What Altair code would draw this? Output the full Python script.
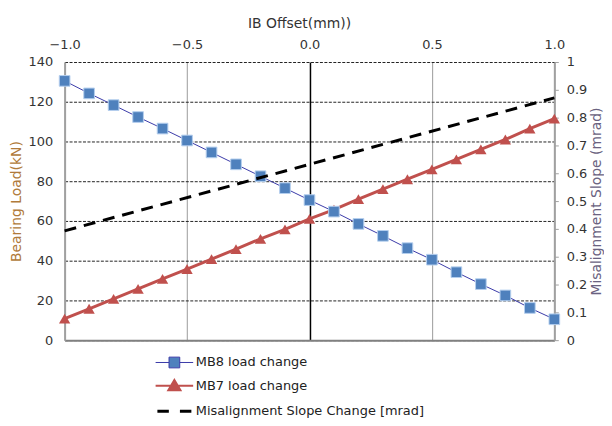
import altair as alt
import pandas as pd

# ---- data ----
offset_mm = [-1.0, -0.9, -0.8, -0.7, -0.6, -0.5, -0.4, -0.3, -0.2, -0.1, 0.0,
             0.1, 0.2, 0.3, 0.4, 0.5, 0.6, 0.7, 0.8, 0.9, 1.0]
mb8_load = [130.5, 124.2, 118.3, 112.3, 106.5, 100.5, 94.5, 88.5, 82.5, 76.5, 70.5,
            64.7, 58.5, 52.5, 46.3, 40.5, 34.2, 28.2, 22.5, 16.2, 10.5]
mb7_load = [10.8, 15.8, 20.8, 25.8, 30.8, 35.8, 40.8, 45.8, 51.0, 55.8, 61.0,
            65.7, 71.0, 76.0, 81.0, 86.0, 91.0, 96.0, 101.0, 106.5, 111.5]
mis_offset = [-1.0, 0.0, 1.0]
mis_slope = [0.393, 0.632, 0.871]

series_names = ["MB8 load  change", "MB7 load  change", "Misalignment  Slope Change  [mrad]"]
x_ticks = [-1.0, -0.5, 0.0, 0.5, 1.0]
left_ticks = [0, 20, 40, 60, 80, 100, 120, 140]
right_ticks = [0, 0.1, 0.2, 0.3, 0.4, 0.5, 0.6, 0.7, 0.8, 0.9, 1.0]

FONT = "DejaVu Sans"

df = pd.DataFrame({"x": offset_mm, "MB8": mb8_load, "MB7": mb7_load})
df_mis = pd.DataFrame({"x": mis_offset, "slope": mis_slope})
df_leg = pd.DataFrame({"series": series_names, "x": [0.0] * 3, "y": [50.0] * 3})

xscale = alt.Scale(domain=[-1, 1], nice=False, zero=False)
yleft = alt.Scale(domain=[0, 140], nice=False)
yright = alt.Scale(domain=[0, 1], nice=False)

top_axis = alt.Axis(
    orient="top", values=x_ticks, format=".1f", title="IB Offset(mm))",
    domain=False, ticks=False, tickSize=0, labelPadding=11, labelFlush=False,
    labelFont=FONT, labelFontSize=13, labelColor="#333",
    titleFont=FONT, titleFontSize=14, titleFontWeight="normal", titleColor="#333",
    titlePadding=8, titleX=236,
    grid=True,
    gridColor={"condition": {"test": "datum.value === 0", "value": "#000000"}, "value": "#9a9a9a"},
    gridWidth={"condition": {"test": "datum.value === 0", "value": 1.5}, "value": 1},
)
left_axis = alt.Axis(
    orient="left", values=left_ticks, title="Bearing  Load(kN)",
    domain=True, domainColor="#a0a0a0", domainWidth=2,
    ticks=False, tickSize=0, labelPadding=12,
    labelFont=FONT, labelFontSize=13, labelColor="#333",
    titleFont=FONT, titleFontSize=14, titleFontWeight="normal", titleColor="#b07a3a",
    titleAngle=270, titleBaseline="middle", titleX=-48, titleY=140,
    grid=True, gridColor="#222", gridDash=[3, 1.5], gridWidth=1,
)
bottom_axis = alt.Axis(
    orient="bottom", values=x_ticks, labels=False, ticks=False, title=None,
    domainColor="#808080", domainWidth=2, grid=False,
)
right_axis = alt.Axis(
    orient="right", values=right_ticks, format="~g", title="Misalignment Slope (mrad)",
    domainColor="#a0a0a0", domainWidth=2, ticks=True, tickSize=4, tickColor="#a0a0a0",
    labelPadding=8, labelFont=FONT, labelFontSize=13, labelColor="#333",
    titleFont=FONT, titleFontSize=14, titleFontWeight="normal", titleColor="#6a6280",
    titleAngle=270, titleBaseline="middle", titleX=42, titleY=140,
    grid=False,
)

base = alt.Chart(df)
mb8_line = base.mark_line(color="#3a3aa8", strokeWidth=1).encode(
    x=alt.X("x:Q", scale=xscale, axis=top_axis),
    y=alt.Y("MB8:Q", scale=yleft, axis=left_axis),
)
mb8_pts = base.mark_square(size=115, fill="#4f81bd", stroke="#b4cfee", strokeWidth=1, opacity=1).encode(
    x=alt.X("x:Q", scale=xscale, axis=None),
    y=alt.Y("MB8:Q", scale=yleft, axis=None),
)
mb7_line = base.mark_line(color="#c0504d", strokeWidth=3).encode(
    x=alt.X("x:Q", scale=xscale, axis=None),
    y=alt.Y("MB7:Q", scale=yleft, axis=None),
)
mb7_pts = base.mark_point(shape="triangle-up", filled=True, color="#c0504d", size=130, opacity=1).encode(
    x=alt.X("x:Q", scale=xscale, axis=None),
    y=alt.Y("MB7:Q", scale=yleft, axis=None),
)

shape_paths = [
    "M-2.1,0H-0.6M0.6,0H2.1M-0.6,-0.6H0.6V0.6H-0.6Z",
    "M-2.1,0H2.1M-0.68,0.5L0,-0.65L0.68,0.5Z",
    "M-1.9,0H-0.62M0.62,0H1.9",
]
leg = alt.Legend(orient="none", legendX=100, legendY=293, title=None, direction="vertical",
                 symbolSize=324, symbolOpacity=1, labelFont=FONT, labelFontSize=13,
                 labelColor="#222", labelOffset=11, rowPadding=6, padding=0, labelLimit=0)
legend_layer = alt.Chart(df_leg).mark_point(opacity=0).encode(
    x=alt.X("x:Q", scale=xscale, axis=None),
    y=alt.Y("y:Q", scale=yleft, axis=None),
    fill=alt.Fill("series:N", sort=series_names,
                  scale=alt.Scale(domain=series_names, range=["#4f81bd", "#c0504d", "transparent"]), legend=leg),
    stroke=alt.Stroke("series:N", sort=series_names,
                      scale=alt.Scale(domain=series_names, range=["#3a3aa8", "#c0504d", "#000000"]), legend=leg),
    shape=alt.Shape("series:N", sort=series_names,
                    scale=alt.Scale(domain=series_names, range=shape_paths), legend=leg),
    strokeWidth=alt.StrokeWidth("series:N", sort=series_names,
                                scale=alt.Scale(domain=series_names, range=[1, 3, 3]), legend=leg),
)

mis_line = alt.Chart(df_mis).mark_line(color="#000000", strokeWidth=3, strokeDash=[12, 8]).encode(
    x=alt.X("x:Q", scale=xscale, axis=bottom_axis),
    y=alt.Y("slope:Q", scale=yright, axis=right_axis),
)

chart = alt.layer(mb8_line, mb7_line, mb7_pts, mb8_pts, legend_layer, mis_line).resolve_scale(
    y="independent"
).resolve_axis(x="independent").properties(
    width=493, height=280,
    padding={"left": 57, "top": 53, "right": 50, "bottom": 77},
    autosize=alt.AutoSizeParams(type="none"),
    background="white",
).configure_view(stroke=None)

chart.save("out.html", embed_options={"renderer": "svg", "actions": False})
